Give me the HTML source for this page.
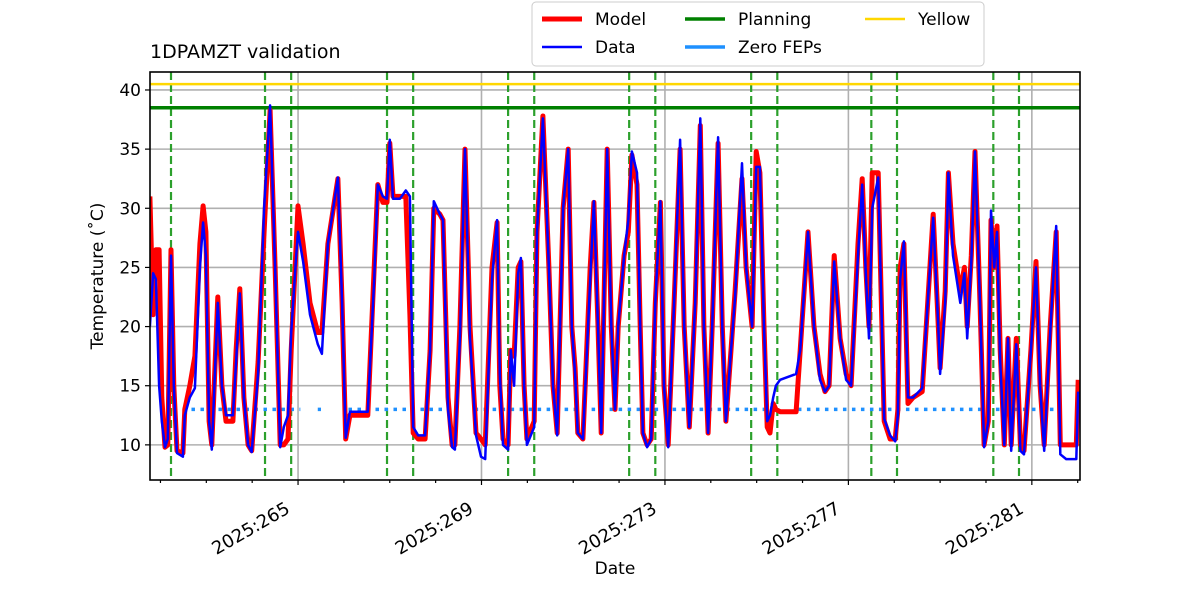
<!DOCTYPE html>
<html><head><meta charset="utf-8"><style>
body{margin:0;background:#fff;}
svg text{font-family:"DejaVu Sans","Liberation Sans",sans-serif;fill:#000;}
</style></head><body>
<svg id="chart" width="1200" height="600" xmlns="http://www.w3.org/2000/svg"></svg>
<script>
const days=[261.77,261.84,261.90,261.97,262.03,262.10,262.16,262.23,262.29,262.36,262.49,262.53,262.64,262.75,262.86,262.93,262.99,263.06,263.12,263.25,263.34,263.43,263.58,263.65,263.73,263.82,263.91,263.99,264.13,264.26,264.39,264.50,264.61,264.69,264.78,264.85,264.96,265.00,265.11,265.26,265.43,265.52,265.65,265.87,265.96,266.04,266.13,266.35,266.52,266.66,266.74,266.85,266.94,267.00,267.07,267.22,267.35,267.44,267.51,267.62,267.77,267.88,267.96,268.09,268.16,268.27,268.36,268.42,268.53,268.64,268.75,268.88,268.99,269.08,269.23,269.34,269.40,269.47,269.58,269.64,269.71,269.80,269.86,269.93,269.99,270.15,270.21,270.34,270.47,270.56,270.65,270.78,270.89,270.97,271.04,271.10,271.21,271.37,271.45,271.54,271.61,271.74,271.83,271.91,271.98,272.11,272.20,272.28,272.39,272.46,272.52,272.61,272.70,272.79,272.90,272.98,273.07,273.20,273.33,273.42,273.53,273.66,273.77,273.85,273.94,274.03,274.16,274.25,274.33,274.44,274.53,274.68,274.77,274.90,274.99,275.07,275.16,275.23,275.29,275.36,275.42,275.51,275.86,275.95,276.12,276.25,276.38,276.49,276.58,276.69,276.82,276.95,277.06,277.21,277.30,277.38,277.45,277.52,277.65,277.78,277.91,278.02,278.08,278.13,278.21,278.30,278.41,278.61,278.85,278.96,279.00,279.11,279.18,279.28,279.44,279.53,279.59,279.68,279.76,279.87,279.96,280.05,280.11,280.18,280.24,280.31,280.40,280.48,280.55,280.66,280.75,280.83,280.98,281.09,281.18,281.27,281.40,281.53,281.62,281.75,281.97,282.01];
const modelTemps=[31,21,26.5,26.5,14,9.8,10,26.5,15,9.5,9.3,13,15,17.5,27,30.2,28,12,10,22.5,15,12,12,18,23.2,14,10,9.5,17,28,38.3,25,10,10,10.5,18,27,30.2,27,22,19.5,19.5,27,32.5,22,10.5,12.5,12.5,12.5,25,32,30.5,30.5,35.5,31,31,31,21,11,10.5,10.5,18,30,29.5,29,14,10,10,20,35,20,11,10.5,10,25,28.8,15,10.5,10,18,17.5,25,25.5,15,10.5,12,28,37.8,25,15,11,30,35,20,16.5,11,10.5,25,30.5,20,11,35,20,13,20,26,28,34.5,32,20,11,10,10.5,22,30.5,15,10,22,35,20,11.5,22,37,20,11,20,35.5,20,12,18,23,32.5,25,20,34.8,33,20,11.5,11,13.5,13,12.8,12.8,18,28,20,16,14.5,15,26,19,16,15,27,32.5,25,20,33,33,12,10.5,10.5,13,25,27,13.5,14,14.5,29.5,20,16.5,23,33,27,23,25,20,26,34.8,22,10,12,29,25,28.5,18,10,19,10,19,10,9.5,18,25.5,15,10,20,28,10,10,10,15.5];
const dataTemps=[20,24.5,24,15,12,9.8,10.5,26,15,9.3,9,12.5,14,14.8,25,28.8,26,12,9.6,22,15,12.5,12.5,17,22.8,14,10,9.4,16,30,38.7,25,9.8,11.5,12.5,19.5,26,28,25.5,21,18.5,17.7,27,32.6,22,10.6,12.8,12.8,12.8,24,32,31,30.8,35.8,30.8,30.8,31.5,31,11.5,10.8,10.8,18,30.6,29.5,29,13,9.8,9.6,19,35,19,10.8,9,8.8,24,29,16,10,9.6,18,15,24.5,25.8,15,10,11.5,28,37.6,25,15,10.8,30,35,20,16,11,10.5,24,30.6,20,11,35,20,13,20,26,29,34.8,33,20,11,9.8,10.5,22,30.6,15,9.8,22,35.8,20,11.5,22,37.6,20,11,20,36,20,12,18,22.5,33.8,25,20,33.5,33.5,20,12,12.5,14,15,15.5,16,18,28,20,15.5,14.5,15,25.5,19,15.5,15,26,32,24.5,19,30,32.6,12.2,10.8,10.3,12.5,24,27.2,14,14,14.8,29.2,20,16,22,33,26,22,24.5,19,25.5,34.8,22,9.8,12,29.8,25,28,17,10,19,9.5,18.5,9.5,9.2,18,25,15,9.5,19.5,28.5,9.2,8.8,8.8,14.5];
const planDays=[262.23,264.28,264.85,266.94,267.51,269.58,270.15,272.22,272.79,274.88,275.45,277.50,278.06,280.16,280.72];
const fepStart=[262.48,265.43,266.10,268.85,275.90];
const fepEnd=[265.05,265.50,268.15,275.45,281.60];
const fepLevel=13;
const planningLevel=38.5;
const yellowLevel=40.5;
const xTicks=[265,269,273,277,281];
const xTickLabels=["2025:265","2025:269","2025:273","2025:277","2025:281"];
const yTicks=[10,15,20,25,30,35,40];

const L=150,R=1080,T=72,B=480;
const x0=261.772,x1=282.05,y0=7.03,y1=41.52;
function X(d){return L+(d-x0)/(x1-x0)*(R-L);}
function Y(v){return B-(v-y0)/(y1-y0)*(B-T);}
const svg=document.getElementById('chart');
const NS='http://www.w3.org/2000/svg';
function mk(tag,attrs,parent){const e=document.createElementNS(NS,tag);for(const k in attrs)e.setAttribute(k,attrs[k]);(parent||svg).appendChild(e);return e;}

const defs=mk('defs',{});const cp=mk('clipPath',{id:'clip'},defs);mk('rect',{x:L,y:T,width:R-L,height:B-T},cp);
const plot=mk('g',{'clip-path':'url(#clip)'});



yTicks.forEach(v=>{const g=mk('line',{x1:L,x2:R,y1:Y(v),y2:Y(v),stroke:'#b0b0b0','stroke-width':1.6},plot);

});
xTicks.forEach(v=>{const g=mk('line',{x1:X(v),x2:X(v),y1:T,y2:B,stroke:'#b0b0b0','stroke-width':1.6},plot);

});

planDays.forEach(d=>{const l=mk('line',{x1:X(d),x2:X(d),y1:T,y2:B,stroke:'#2ca02c','stroke-width':2.2,'stroke-dasharray':'8,4'},plot);

});

const yl=mk('line',{x1:L,x2:R,y1:Y(yellowLevel),y2:Y(yellowLevel),stroke:'#ffd700','stroke-width':2.5},plot);


const pl=mk('line',{x1:L,x2:R,y1:Y(planningLevel),y2:Y(planningLevel),stroke:'#008000','stroke-width':3.5},plot);



fepStart.forEach((s,i)=>{const l=mk('line',{x1:X(s),x2:X(fepEnd[i]),y1:Y(fepLevel),y2:Y(fepLevel),stroke:'#1e90ff','stroke-width':3.5,'stroke-dasharray':'3.5,5.5'},plot);

});

function pts(arr){return days.map((d,i)=>X(d).toFixed(1)+','+Y(arr[i]).toFixed(1)).join(' ');}
const ml=mk('polyline',{points:pts(modelTemps),fill:'none',stroke:'#ff0000','stroke-width':5,'stroke-linejoin':'round'},plot);


const dl=mk('polyline',{points:pts(dataTemps),fill:'none',stroke:'#0000ff','stroke-width':2.5,'stroke-linejoin':'round'},plot);



const fr=mk('rect',{x:L,y:T,width:R-L,height:B-T,fill:'none',stroke:'#000','stroke-width':1.6});



yTicks.forEach(v=>{mk('line',{x1:L-5,x2:L,y1:Y(v),y2:Y(v),stroke:'#000','stroke-width':1.2});
const t=mk('text',{x:L-9,y:Y(v)+6,'text-anchor':'end','font-size':17});t.textContent=v;

});
for(let d=262;d<=282;d++){const maj=xTicks.includes(d);mk('line',{x1:X(d),x2:X(d),y1:B,y2:B+(maj?5:3),stroke:'#000','stroke-width':1.2});}
xTicks.forEach((v,i)=>{const ax=X(v)-7,ay=B+32;const t=mk('text',{x:ax,y:ay,'text-anchor':'end','font-size':18,transform:`rotate(-30 ${ax} ${ay})`});t.textContent=xTickLabels[i];

});

const xt=mk('text',{x:(L+R)/2,y:574,'text-anchor':'middle','font-size':17});xt.textContent='Date';


const yt=mk('text',{x:103,y:(T+B)/2,'text-anchor':'middle','font-size':17,transform:`rotate(-90 103 ${(T+B)/2})`});
yt.textContent='Temperature (\u02daC)';


const tt=mk('text',{x:150,y:58,'font-size':19});tt.textContent='1DPAMZT validation';



const lg=mk('g',{});


mk('rect',{x:532,y:2,width:452,height:64,rx:4,fill:'#fff',stroke:'#ccc','stroke-width':1},lg);
const items=[["Model","#ff0000",5,542,19],["Data","#0000ff",2.5,542,47],["Planning","#008000",3.5,685,19],["Zero FEPs","#1e90ff",3.5,685,47],["Yellow","#ffd700",2.5,865,19]];
items.forEach(it=>{const g=mk('g',{},lg);


mk('line',{x1:it[3],x2:it[3]+40,y1:it[4],y2:it[4],stroke:it[1],'stroke-width':it[2]},g);
const t=mk('text',{x:it[3]+53,y:it[4]+6,'font-size':17},g);t.textContent=it[0];});
</script>
</body></html>
